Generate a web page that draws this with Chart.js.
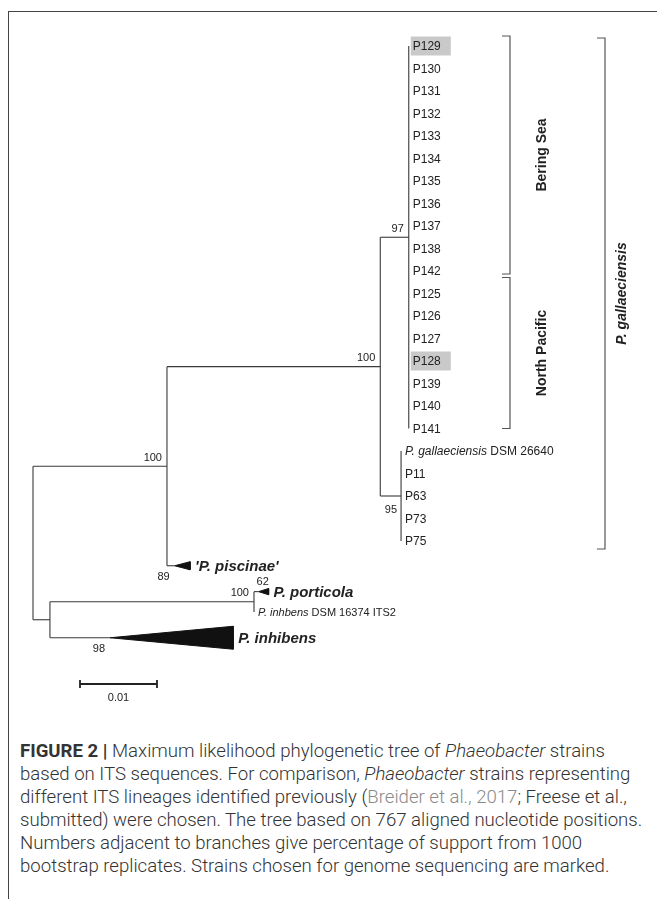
<!DOCTYPE html>
<html>
<head>
<meta charset="utf-8">
<script src="https://cdn.jsdelivr.net/npm/chart.js@4.4.1/dist/chart.umd.min.js"></script>
<style>
  body { margin: 0; background: #fff; }
  #page { position: relative; width: 657px; height: 899px; overflow: hidden; font-family: "Liberation Sans", Arial, sans-serif; }
  #frame { position: absolute; left: 8px; top: 11px; width: 700px; height: 950px; border-left: 1.5px solid #444; border-top: 1.5px solid #444; }
  #tree { position: absolute; left: 0; top: 0; }
  #caption { position: absolute; left: 20px; top: 740px; color: #333; font-family: Roboto, "Liberation Sans", Arial, sans-serif; font-weight: 300; font-size: 17.5px; line-height: 23px; white-space: nowrap; }
  #caption > div { width: max-content; transform-origin: left center; }
  #caption b { font-weight: 700; }
  #caption .ref { color: #8a8a8a; }
</style>
</head>
<body>
<div id="page">
  <div id="frame"></div>
  <canvas id="tree" width="657" height="720"></canvas>
  <div id="caption">
    <div><b>FIGURE 2 |</b> Maximum likelihood phylogenetic tree of <i>Phaeobacter</i> strains</div>
    <div>based on ITS sequences. For comparison, <i>Phaeobacter</i> strains representing</div>
    <div>different ITS lineages identified previously (<span class="ref">Breider et al., 2017</span>; Freese et al.,</div>
    <div>submitted) were chosen. The tree based on 767 aligned nucleotide positions.</div>
    <div>Numbers adjacent to branches give percentage of support from 1000</div>
    <div>bootstrap replicates. Strains chosen for genome sequencing are marked.</div>
  </div>
</div>
<script>
// leaves, top to bottom
const beringStrains = ['P129', 'P130', 'P131', 'P132', 'P133', 'P134', 'P135', 'P136', 'P137', 'P138', 'P142'];
const pacificStrains = ['P125', 'P126', 'P127', 'P128', 'P139', 'P140', 'P141'];
const gallStrains = ['P. gallaeciensis DSM 26640', 'P11', 'P63', 'P73', 'P75'];
const markedStrains = ['P129', 'P128'];

// internal nodes (depth = substitutions per site from the root)
const nodeIds     = ['root', 'A', 'C', 'D', 'E', 'B', 'F'];
const nodeParent  = [null, 'root', 'A', 'C', 'C', 'root', 'B'];
const nodeDepth   = [0, 0.0174, 0.0451, 0.0488, 0.0478, 0.0022, 0.0287];
const nodeSupport = [null, 100, 100, 97, 95, null, 100];

// collapsed clades
const cladeNames   = ["'P. piscinae'", 'P. porticola', 'P. inhibens'];
const cladeParent  = ['A', 'F', 'B'];
const cladeRow     = [23.1, 24.25, 26.3];
const cladeStart   = [0.0184, 0.0293, 0.0100];
const cladeEnd     = [0.0204, 0.0306, 0.0260];
const cladeSpread  = [0.18, 0.14, 0.51];
const cladeSupport = [89, 62, 98];

// single leaf under F
const loneLeaf = 'P. inhbens DSM 16374 ITS2';
const loneLeafRow = 25.15;

// brackets on the right
const groupNames = ['Bering Sea', 'North Pacific', 'P. gallaeciensis'];
const groupFrom  = ['P129', 'P125', 'P129'];
const groupTo    = ['P142', 'P141', 'P75'];

const scaleBarLength = 0.01;

// ---- build tips ----
const tipLabels = [...beringStrains, ...pacificStrains, ...gallStrains, loneLeaf];
const tipParent = [];
const tipRow = [];
tipLabels.forEach((t, i) => {
  if (i < beringStrains.length + pacificStrains.length) tipParent.push('D');
  else if (t === loneLeaf) tipParent.push('F');
  else tipParent.push('E');
  tipRow.push(t === loneLeaf ? loneLeafRow : i);
});

const depthOf = id => nodeDepth[nodeIds.indexOf(id)];
const nodeY = {};
const nodeSpan = {};
function placeNode(id) {
  const ys = [];
  nodeIds.forEach((n, i) => { if (nodeParent[i] === id) ys.push(placeNode(n)); });
  tipParent.forEach((p, i) => { if (p === id) ys.push(tipRow[i]); });
  cladeParent.forEach((p, i) => { if (p === id) ys.push(cladeRow[i]); });
  const lo = Math.min(...ys), hi = Math.max(...ys);
  nodeSpan[id] = [lo, hi];
  nodeY[id] = (lo + hi) / 2;
  return nodeY[id];
}
placeNode('root');

// ---- datasets ----
const lineColor = '#3a3a3a';
const datasets = [];
function seg(points) {
  datasets.push({ data: points, showLine: true, borderColor: lineColor, borderWidth: 1.1, pointRadius: 0, fill: false });
}
nodeIds.forEach((id, i) => {
  const x = nodeDepth[i];
  seg([{ x: x, y: nodeSpan[id][0] }, { x: x, y: nodeSpan[id][1] }]);
  if (nodeParent[i]) seg([{ x: depthOf(nodeParent[i]), y: nodeY[id] }, { x: x, y: nodeY[id] }]);
});
cladeNames.forEach((c, i) => {
  seg([{ x: depthOf(cladeParent[i]), y: cladeRow[i] }, { x: cladeStart[i], y: cladeRow[i] }]);
  datasets.push({
    data: [
      { x: cladeStart[i], y: cladeRow[i] },
      { x: cladeEnd[i], y: cladeRow[i] - cladeSpread[i] },
      { x: cladeEnd[i], y: cladeRow[i] + cladeSpread[i] },
      { x: cladeStart[i], y: cladeRow[i] }
    ],
    showLine: true, borderColor: '#111', borderWidth: 1, backgroundColor: '#111',
    pointRadius: 0, fill: 'shape', tension: 0
  });
});

// ---- text, brackets, scale bar ----
const treeText = {
  id: 'treeText',
  beforeDatasetsDraw(chart) {
    const { ctx, scales: { x, y } } = chart;
    ctx.save();
    ctx.fillStyle = '#c9c9c9';
    markedStrains.forEach(s => {
      const i = tipLabels.indexOf(s);
      const px = x.getPixelForValue(depthOf(tipParent[i]));
      const py = y.getPixelForValue(tipRow[i]);
      ctx.fillRect(px + 2, py - 9.5, 40, 19);
    });
    ctx.restore();
  },
  afterDatasetsDraw(chart) {
    const { ctx, scales: { x, y } } = chart;
    ctx.save();
    ctx.fillStyle = '#222';
    ctx.textBaseline = 'middle';

    // leaf labels
    tipLabels.forEach((t, i) => {
      let px = x.getPixelForValue(depthOf(tipParent[i])) + 4;
      const py = y.getPixelForValue(tipRow[i]) + 1;
      const m = t.match(/^(P\. [a-z]+)(.*)$/);
      const size = t === loneLeaf ? 11 : 12;
      ctx.textAlign = 'left';
      if (m) {
        ctx.font = `italic ${size}px "Liberation Sans", Arial`;
        ctx.fillText(m[1], px, py);
        px += ctx.measureText(m[1]).width;
        ctx.font = `${size}px "Liberation Sans", Arial`;
        ctx.fillText(m[2], px, py);
      } else {
        ctx.font = `${size}px "Liberation Sans", Arial`;
        ctx.fillText(t, px, py);
      }
    });

    // collapsed clade names
    ctx.font = 'bold italic 15px "Liberation Sans", Arial';
    cladeNames.forEach((c, i) => {
      ctx.fillText(c, x.getPixelForValue(cladeEnd[i]) + 5, y.getPixelForValue(cladeRow[i]) + 1);
    });

    // support values
    ctx.font = '11px "Liberation Sans", Arial';
    ctx.textAlign = 'right';
    nodeIds.forEach((id, i) => {
      if (nodeSupport[i] == null) return;
      const px = x.getPixelForValue(nodeDepth[i]) - 5;
      const py = y.getPixelForValue(nodeY[id]);
      if (id === 'E') { ctx.textBaseline = 'top'; ctx.fillText(nodeSupport[i], px + 1, py + 8); }
      else { ctx.textBaseline = 'bottom'; ctx.fillText(nodeSupport[i], px, py - 3); }
    });
    cladeSupport.forEach((v, i) => {
      const px = x.getPixelForValue(cladeStart[i]);
      const py = y.getPixelForValue(cladeRow[i]);
      if (i === 1) { ctx.textAlign = 'left'; ctx.textBaseline = 'bottom'; ctx.fillText(v, px - 2, py - 4); }
      else { ctx.textAlign = 'right'; ctx.textBaseline = 'top'; ctx.fillText(v, px - 5, py + 6); }
    });

    // brackets
    const bracketX = [510, 510, 605];
    const labelX = [542, 542, 622];
    const padTop = [10, 16, 8];
    const padBottom = [3, 0, 8];
    ctx.strokeStyle = '#555';
    ctx.lineWidth = 1.2;
    groupNames.forEach((g, i) => {
      const top = y.getPixelForValue(tipRow[tipLabels.indexOf(groupFrom[i])]) - padTop[i];
      const bot = y.getPixelForValue(tipRow[tipLabels.indexOf(groupTo[i])]) + padBottom[i];
      ctx.beginPath();
      ctx.moveTo(bracketX[i] - 8, top);
      ctx.lineTo(bracketX[i], top);
      ctx.lineTo(bracketX[i], bot);
      ctx.lineTo(bracketX[i] - 8, bot);
      ctx.stroke();
      ctx.save();
      ctx.translate(labelX[i], (top + bot) / 2);
      ctx.rotate(-Math.PI / 2);
      ctx.textAlign = 'center';
      ctx.textBaseline = 'middle';
      ctx.font = (i === 2 ? 'bold italic' : 'bold') + ' 14px "Liberation Sans", Arial';
      ctx.fillText(g, 0, 0);
      ctx.restore();
    });

    // scale bar
    const barLeft = 80, barY = 684;
    const barW = x.getPixelForValue(scaleBarLength) - x.getPixelForValue(0);
    ctx.strokeStyle = '#222';
    ctx.lineWidth = 1.8;
    ctx.beginPath();
    ctx.moveTo(barLeft, barY); ctx.lineTo(barLeft + barW, barY);
    ctx.moveTo(barLeft, barY - 4); ctx.lineTo(barLeft, barY + 4);
    ctx.moveTo(barLeft + barW, barY - 4); ctx.lineTo(barLeft + barW, barY + 4);
    ctx.stroke();
    ctx.textAlign = 'center';
    ctx.textBaseline = 'middle';
    ctx.font = '11px "Liberation Sans", Arial';
    ctx.fillText(scaleBarLength.toFixed(2), barLeft + barW / 2, barY + 14);
    ctx.restore();
  }
};

const pxPerUnit = 7700, rootPx = 33, rowPx = 22.5, firstRowPx = 46;
new Chart(document.getElementById('tree'), {
  type: 'scatter',
  data: { datasets: datasets },
  options: {
    responsive: false,
    animation: false,
    layout: { padding: 0 },
    plugins: { legend: { display: false }, tooltip: { enabled: false } },
    scales: {
      x: { type: 'linear', display: false, min: -rootPx / pxPerUnit, max: (657 - rootPx) / pxPerUnit },
      y: { type: 'linear', display: false, reverse: true, min: -firstRowPx / rowPx, max: (720 - firstRowPx) / rowPx }
    }
  },
  plugins: [treeText]
});

// one common horizontal squeeze so the long caption lines end where the reference's do
const lines = [...document.querySelectorAll('#caption > div')];
const natural = lines.map(d => d.getBoundingClientRect().width);
const squeeze = (613 + 617 + 592) / (natural[1] + natural[3] + natural[5]);
lines.forEach(d => { d.style.transform = `scaleX(${squeeze})`; });
</script>
</body>
</html>
